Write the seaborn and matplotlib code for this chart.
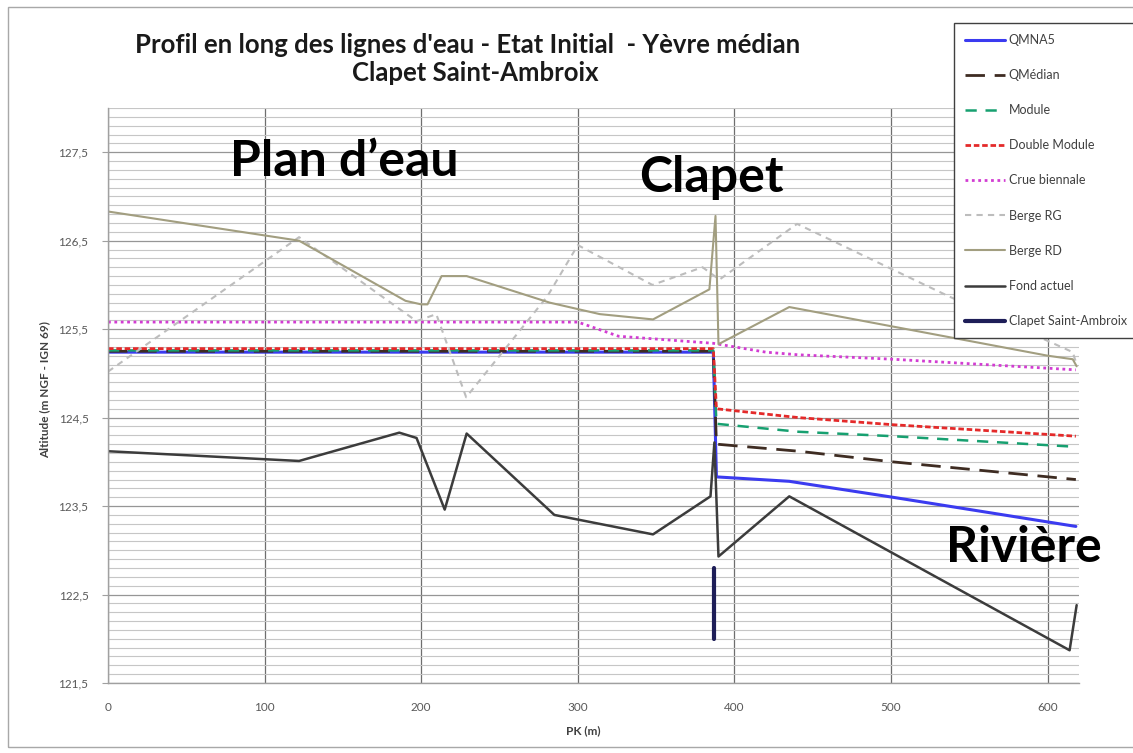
import numpy as np
import matplotlib
matplotlib.use("Agg")
import matplotlib.pyplot as plt
import seaborn as sns
from matplotlib.ticker import FixedLocator, FuncFormatter
from matplotlib.patches import Rectangle

sns.set_theme(style="white")
plt.rcParams['font.family'] = ['Lato', 'DejaVu Sans']

# --- Lignes d'eau (PK en m, altitude en m NGF - IGN 69) ---
pk_qmna5 = [0, 386.5, 388.5, 435, 501, 618]
z_qmna5 = [125.24, 125.24, 123.83, 123.78, 123.60, 123.27]

pk_qmedian = [0, 386.5, 388.5, 441, 501, 618]
z_qmedian = [125.25, 125.25, 124.20, 124.12, 124.00, 123.80]

pk_module = [0, 386.5, 388.5, 441, 501, 618]
z_module = [125.26, 125.26, 124.43, 124.34, 124.29, 124.17]

pk_double = [0, 386.5, 388.5, 441, 501, 618]
z_double = [125.28, 125.28, 124.60, 124.50, 124.42, 124.29]

pk_crue = [0, 300, 326, 386.5, 420, 441, 501, 618]
z_crue = [125.58, 125.58, 125.42, 125.34, 125.24, 125.21, 125.16, 125.04]

# --- Berges ---
pk_berge_rg = [0, 122, 197, 209.6, 228.7, 280.5, 300, 347.6, 379.6, 390.4, 440, 537, 616, 618.5]
z_berge_rg = [125.02, 126.54, 125.59, 125.67, 124.73, 125.87, 126.45, 126.00, 126.20, 126.06,
              126.69, 125.87, 125.24, 125.10]

pk_berge_rd = [0, 122, 190, 200, 204, 213, 229, 282, 314, 348, 384, 387.9, 389.8, 435,
               600, 616, 618.5]
z_berge_rd = [126.83, 126.50, 125.82, 125.78, 125.78, 126.10, 126.10, 125.80, 125.67, 125.61,
              125.95, 126.78, 125.33, 125.75, 125.20, 125.16, 125.08]

# --- Fond du lit ---
pk_fond = [0, 122, 186, 197, 215, 229, 285, 348, 384.7, 387.2, 389.8, 435, 614, 618.5]
z_fond = [124.12, 124.01, 124.33, 124.27, 123.46, 124.32, 123.40, 123.18, 123.61, 124.22,
          122.93, 123.61, 121.87, 122.38]

# --- Ouvrage ---
pk_clapet = [387.2, 387.2]
z_clapet = [122.80, 122.00]

x_ticks = [0, 100, 200, 300, 400, 500, 600]
y_major = [121.5, 122.5, 123.5, 124.5, 125.5, 126.5, 127.5]

series = [
    ("QMNA5", pk_qmna5, z_qmna5, dict(color="#3B3BF0", lw=2.2, linestyle="-")),
    ("QMédian", pk_qmedian, z_qmedian, dict(color="#3E2C22", lw=2.0, linestyle=(0, (7, 3.5)))),
    ("Module", pk_module, z_module, dict(color="#17A070", lw=1.8, linestyle=(0, (4.5, 3.5)))),
    ("Double Module", pk_double, z_double, dict(color="#E42A2A", lw=2.0, linestyle=(0, (2, 1)))),
    ("Crue biennale", pk_crue, z_crue, dict(color="#D23CD2", lw=2.0, linestyle=(0, (1, 1.3)))),
    ("Berge RG", pk_berge_rg, z_berge_rg, dict(color="#BDBDBD", lw=1.5, linestyle=(0, (3, 2.5)))),
    ("Berge RD", pk_berge_rd, z_berge_rd, dict(color="#A29E80", lw=1.5, linestyle="-")),
    ("Fond actuel", pk_fond, z_fond, dict(color="#3C3C3C", lw=1.8, linestyle="-")),
    ("Clapet Saint-Ambroix", pk_clapet, z_clapet, dict(color="#1E1E58", lw=3.0, linestyle="-")),
]

fig = plt.figure(figsize=(11.33, 7.53), dpi=100)
fig.patch.set_facecolor("white")
ax = fig.add_axes([108 / 1133, 1 - 683 / 753, (1079 - 108) / 1133, (683 - 108) / 753])
ax.set_facecolor("white")

handles = []
for name, xs, ys, style in series:
    sns.lineplot(x=xs, y=ys, ax=ax, sort=False, estimator=None, label=name, **style)
    handles.append(ax.lines[-1])
if ax.get_legend() is not None:
    ax.get_legend().remove()

ax.set_xlim(0, 620)
ax.set_ylim(121.5, 128.0)

# grille : traits fins tous les 0,1 m, plus marqués aux graduations
minor_y = [v for v in np.round(np.arange(121.5, 128.0001, 0.1), 1) if v not in y_major]
ax.yaxis.set_major_locator(FixedLocator(y_major))
ax.yaxis.set_minor_locator(FixedLocator(minor_y))
ax.xaxis.set_major_locator(FixedLocator(x_ticks))
ax.grid(which="minor", axis="y", color="#C6C6C6", lw=0.8)
ax.grid(which="major", axis="y", color="#969696", lw=0.9)
ax.grid(which="major", axis="x", color="#6E6E6E", lw=0.9)
ax.set_axisbelow(True)

ax.yaxis.set_major_formatter(FuncFormatter(lambda v, p: f"{v:.1f}".replace(".", ",")))
ax.xaxis.set_major_formatter(FuncFormatter(lambda v, p: f"{v:.0f}"))
ax.tick_params(axis="y", which="major", length=4, width=0.8, color="#A0A0A0",
               labelsize=8.5, labelcolor="#595959", pad=10, left=True)
ax.tick_params(axis="y", which="minor", length=0)
ax.tick_params(axis="x", which="major", length=0, labelsize=8.5, labelcolor="#595959", pad=14)

for s in ["top", "right"]:
    ax.spines[s].set_visible(False)
for s in ["left", "bottom"]:
    ax.spines[s].set_color("#A0A0A0")
    ax.spines[s].set_linewidth(1.0)

fig.text(45 / 1133, 1 - 390 / 753, "Altitude (m NGF - IGN 69)", rotation=90,
         ha="center", va="center", fontsize=8.5, fontweight="bold", color="#404040")
fig.text(583 / 1133, 1 - 731 / 753, "PK (m)", ha="center", va="center",
         fontsize=8.5, fontweight="bold", color="#404040")

fig.text(468 / 1133, 1 - 45 / 753,
         "Profil en long des lignes d'eau - Etat Initial  - Yèvre médian",
         ha="center", va="center", fontsize=18.5, fontweight="bold", color="#1A1A1A")
fig.text(475 / 1133, 1 - 73 / 753, "Clapet Saint-Ambroix",
         ha="center", va="center", fontsize=18.5, fontweight="bold", color="#1A1A1A")

# repères des tronçons
ax.text(150.8, 127.39, "Plan d’eau", ha="center", va="center", fontsize=36,
        fontweight="bold", color="black", clip_on=False)
ax.text(385, 127.22, "Clapet", ha="center", va="center", fontsize=36,
        fontweight="bold", color="black", clip_on=False)
ax.text(584.7, 123.03, "Rivière", ha="center", va="center", fontsize=36,
        fontweight="bold", color="black", clip_on=False)

leg = fig.legend(handles, [s[0] for s in series], loc="upper left",
                 bbox_to_anchor=(954 / 1133, 1 - 23 / 753), borderaxespad=0,
                 fontsize=9, labelspacing=1.85, handlelength=3.2, handletextpad=0.3,
                 borderpad=0.88, frameon=True, fancybox=False, framealpha=1)
leg.get_frame().set_edgecolor("#404040")
leg.get_frame().set_linewidth(1.0)
for t in leg.get_texts():
    t.set_color("#404040")

# cadre du graphique
fig.patches.append(Rectangle((8 / 1133, 1 - 747 / 753), 1.2, (747 - 7) / 753,
                             transform=fig.transFigure, fill=False,
                             edgecolor="#A8A8A8", lw=1.0, zorder=0))

fig.savefig("out.png", dpi=100)
